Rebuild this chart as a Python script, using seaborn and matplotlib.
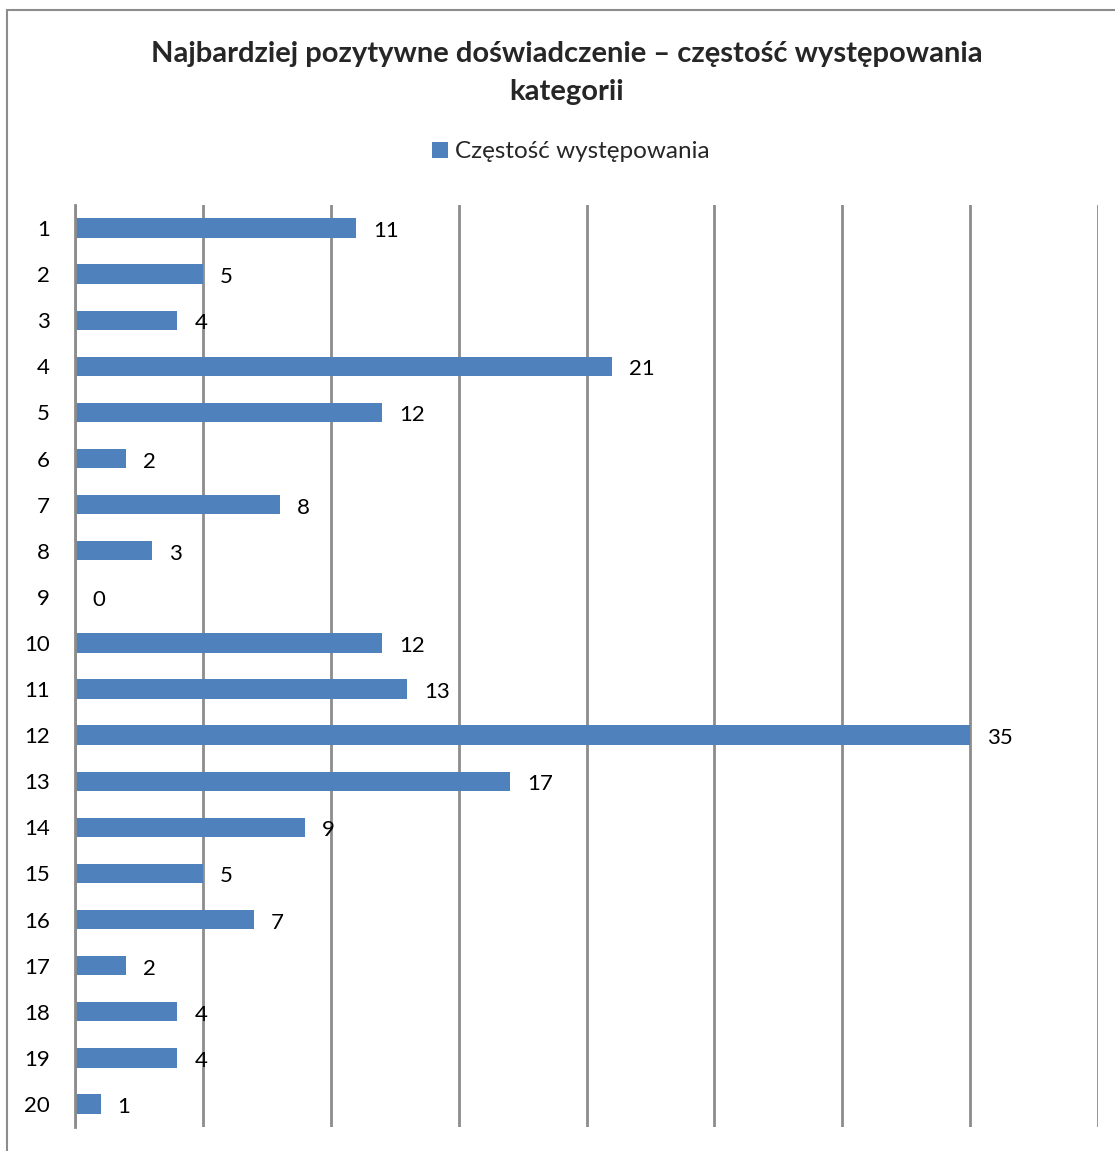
import matplotlib
matplotlib.use("Agg")
import matplotlib.pyplot as plt
from matplotlib.patches import Rectangle, Patch
import seaborn as sns
import pandas as pd

# Category numbers and their frequencies
categories = [str(i) for i in range(1, 21)]
frequencies = [11, 5, 4, 21, 12, 2, 8, 3, 0, 12, 13, 35, 17, 9, 5, 7, 2, 4, 4, 1]

title = "Najbardziej pozytywne doświadczenie – częstość występowania\nkategorii"
series_name = "Częstość występowania"

BAR_COLOR = "#4F81BD"
GRID_COLOR = "#8C8C8C"

sns.set_theme(style="white")
plt.rcParams["font.family"] = ["Lato", "DejaVu Sans"]

df = pd.DataFrame({"kategoria": categories, "czestosc": frequencies})

fig = plt.figure(figsize=(11.15, 11.51), dpi=100)
W, H = 1115, 1151
ax = fig.add_axes([75 / W, 24 / H, (1098 - 75) / W, (1127 - 205) / H])

sns.barplot(data=df, x="czestosc", y="kategoria", orient="h",
            color=BAR_COLOR, width=0.42, saturation=1, linewidth=0, ax=ax)

ax.set_xlim(0, 40)
ax.set_ylim(len(categories) - 0.5, -0.5)
ax.set_xticks(range(0, 41, 5))
ax.set_xticklabels([])
ax.grid(axis="x", color=GRID_COLOR, linewidth=2)
ax.set_axisbelow(True)
for side in ("top", "right", "bottom"):
    ax.spines[side].set_visible(False)
ax.spines["left"].set_color(GRID_COLOR)
ax.spines["left"].set_linewidth(2)
ax.tick_params(axis="y", length=0, pad=18, labelsize=16, colors="black")
ax.tick_params(axis="x", length=0)
ax.set_xlabel("")
ax.set_ylabel("")

# value labels to the right of each bar
for i, v in enumerate(frequencies):
    ax.annotate(str(v), (v, i), xytext=(17, -3), textcoords="offset pixels",
                ha="left", va="center", fontsize=16, color="black")

fig.text(567 / W, 1 - 73 / H, title, ha="center", va="center",
         fontsize=21, fontweight="bold", linespacing=1.55)

fig.legend(handles=[Patch(facecolor=BAR_COLOR, edgecolor="none", label=series_name)],
           loc="center", bbox_to_anchor=(571 / W, 1 - 152 / H), frameon=False,
           fontsize=17.5, handlelength=0.65, handleheight=0.65, handletextpad=0.3)

# outer chart frame (left and top edges visible)
fig.patches.append(Rectangle((7 / W, -0.05), 1.1, 1 - 10 / H + 0.05,
                             transform=fig.transFigure, fill=False,
                             edgecolor=GRID_COLOR, linewidth=1.5))

fig.savefig("out.png", dpi=100, facecolor="white")
